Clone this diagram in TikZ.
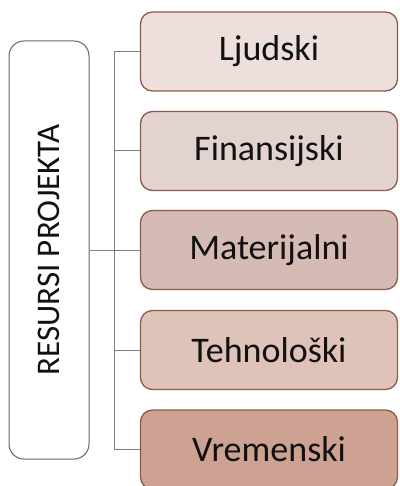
\documentclass[tikz,border=0pt]{standalone}
\usepackage{fontspec}
\setmainfont{Carlito}
\definecolor{bordc}{HTML}{8E5A4A}
\definecolor{rootb}{HTML}{7A5E55}
\definecolor{linec}{HTML}{808080}
\definecolor{fa}{HTML}{EDE0DC}
\definecolor{fb}{HTML}{E2D3CF}
\definecolor{fc}{HTML}{D6BAB4}
\definecolor{fd}{HTML}{DFC3B9}
\definecolor{fe}{HTML}{CDA292}
\definecolor{txt}{HTML}{111111}
\tikzset{
  child/.style={draw=bordc, line width=1.3pt, rounded corners=12pt, minimum width=257pt, minimum height=79pt, inner sep=0pt, text=txt, font=\fontsize{36}{40}\selectfont},
  rootbox/.style={draw=rootb, line width=1pt, fill=white, rounded corners=15pt, minimum width=80pt, minimum height=418pt, inner sep=0pt},
  conn/.style={draw=linec, line width=1pt}
}
\begin{document}
\begin{tikzpicture}[x=1pt,y=-1pt]
\useasboundingbox (0,0) rectangle (399,486);
\clip (0,0) rectangle (399,486);
\node[rootbox] (root) at (49,250) {};
\node[rotate=90, text=txt, font=\fontsize{33}{36}\selectfont] (roottext) at (49,250) {RESURSI PROJEKTA};
\node[child, fill=fa] (c1) at (269,51.5) {Ljudski};
\node[child, fill=fb] (c2) at (269,151) {Finansijski};
\node[child, fill=fc] (c3) at (269,250) {Materijalni};
\node[child, fill=fd] (c4) at (269,350) {Tehnološki};
\node[child, fill=fe] (c5) at (269,449.5) {Vremenski};
\draw[conn] (c1.west) -- ++(-25,0) coordinate (bus) |- (c5.west);
\foreach \i in {2,3,4} {\draw[conn] (c\i.west) -- (bus |- c\i.west);}
\draw[conn] (root.east) -- (bus |- root.east);
\end{tikzpicture}
\end{document}
